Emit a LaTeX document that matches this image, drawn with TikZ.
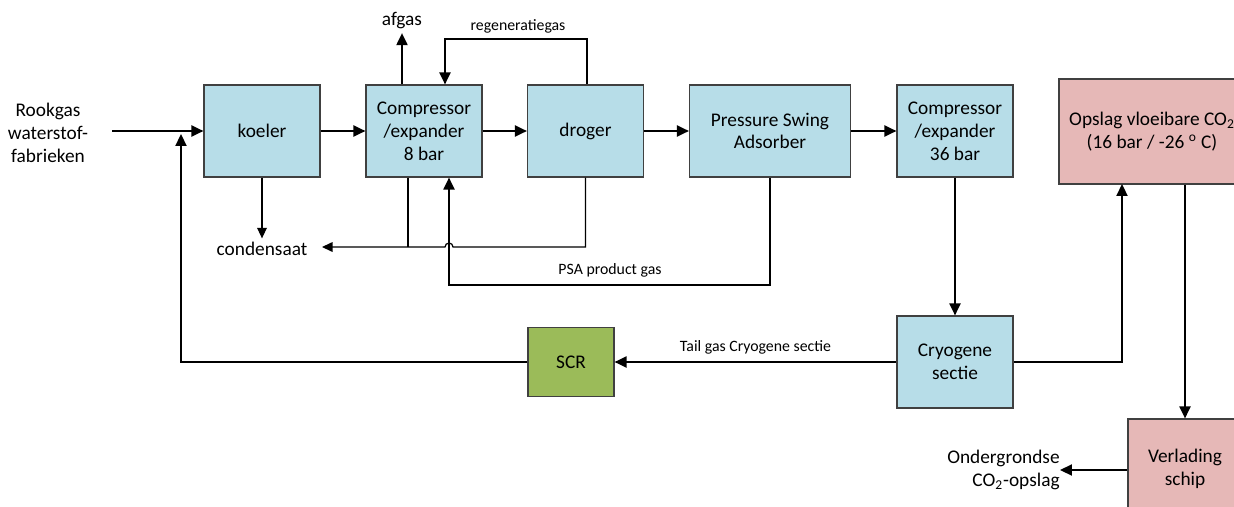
\documentclass[tikz,border=0pt]{standalone}
\usepackage{fontspec}
\setmainfont{Carlito}
\usetikzlibrary{arrows.meta,calc}

\definecolor{coolblue}{HTML}{B7DDE8}
\definecolor{tankpink}{HTML}{E6B8B7}
\definecolor{scrgreen}{HTML}{9BBB59}

\tikzset{
    unit/.style={draw=black!75, line width=0.7pt, fill=#1, align=center,
        minimum width=2.32cm, minimum height=1.84cm, inner sep=1pt,
        font=\fontsize{11}{13}\selectfont},
    txt/.style={align=center, inner sep=2pt, font=\fontsize{11}{13}\selectfont},
    small/.style={inner sep=1pt, font=\fontsize{9}{11}\selectfont},
    flow/.style={line width=1pt, -{Triangle[length=6.8pt,width=6.3pt]}},
    thinflow/.style={line width=0.7pt, -{Triangle[length=6pt,width=5.5pt]}},
}

\begin{document}
\begin{tikzpicture}[x=0.02cm, y=-0.02cm]
                \useasboundingbox (0,0) rectangle (1234,507);
                \clip (0,0) rectangle (1234,507);

                \node[unit=coolblue] (koeler) at (262,131) {koeler};
                \node[unit=coolblue] (comp8) at (424,131) {Compressor\\/expander\\8 bar};
                \node[unit=coolblue] (droger) at (585.5,131) {droger};
                \node[unit=coolblue, minimum width=3.22cm] (psa) at (770,131) {Pressure Swing\\Adsorber};
                \node[unit=coolblue] (comp36) at (955,131) {Compressor\\/expander\\36 bar};
                \node[unit=tankpink, minimum width=3.72cm, minimum height=2.1cm] (opslag) at (1152,131.5)
                    {Opslag vloeibare CO\textsubscript{2}\\(16 bar / -26 \textsuperscript{o} C)};
                \node[unit=coolblue] (cryo) at (955,362) {Cryogene\\sectie};
                \node[unit=scrgreen, minimum width=1.72cm, minimum height=1.38cm] (scr) at (571,362) {SCR};
                \node[unit=tankpink, minimum width=2.28cm, minimum height=2cm] (verlading) at (1185,469) {Verlading\\schip};

                \node[txt] (rookgas) at (48,133) {Rookgas\\waterstof-\\fabrieken};
                \node[txt] (afgas) at (402,21) {afgas};
                \node[txt] (cond) at (262,249) {condensaat};
                \node[txt, align=right, anchor=east, inner sep=0pt] (ondergr) at (1060,470)
                    {Ondergrondse\\CO\textsubscript{2}-opslag};

                \coordinate (rookin) at (112,131);
                \coordinate (retour) at (181,134);
                \coordinate (regen1) at (587,39);
                \coordinate (regen2) at (445,39);
                \coordinate (branch) at (408,247);
                \coordinate (condin) at (322,247);
                \coordinate (psaret) at (449,285);
                \coordinate (tankin) at (1122,184);

                \draw[flow] (rookin) -- (koeler.west);
                \draw[flow] (koeler) -- (comp8);
                \draw[flow] (comp8) -- (droger);
                \draw[flow] (droger) -- (psa);
                \draw[flow] (psa) -- (comp36);
                \draw[flow] (comp36) -- (cryo);
                \draw[flow] (cryo) -- node[small, above=3pt] {Tail gas Cryogene sectie} (scr);
                \draw[flow] (scr.west) -| (retour);
                \draw[flow] (cryo.east) -| (tankin);
                \draw[flow] (verlading.north |- opslag.south) -- (verlading.north);
                \draw[flow] (verlading.west |- ondergr.east) -- (ondergr.east);

                \draw[flow] (afgas.south |- comp8.north) -- (afgas.south);
                \draw[flow] (regen1 |- droger.north) -- (regen1) -- (regen2) -- (regen2 |- comp8.north);
                \node[small] at (518,26) {regeneratiegas};

                \draw[thinflow] (koeler) -- (cond);
                \draw[thinflow] (droger.south) |- (453,247) arc[start angle=0, end angle=180, radius=0.08cm] -- (condin);
                \draw[line width=0.7pt] (branch |- comp8.south) -- (branch);

                \draw[flow] (psa.south) |- (psaret) -- (psaret |- comp8.south);
                \node[small] at (610,270) {PSA product gas};
            \end{tikzpicture}
\end{document}
